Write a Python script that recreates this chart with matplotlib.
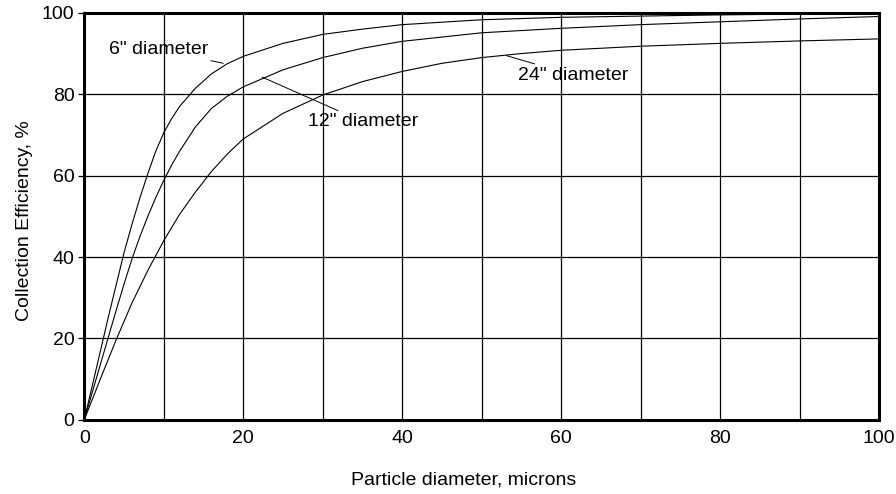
import numpy as np
import matplotlib.pyplot as plt
from matplotlib.ticker import MultipleLocator

plt.rcParams['font.family'] = ['Liberation Sans', 'DejaVu Sans']

# particle diameter, microns -> collection efficiency, %
x6 = [0, 1, 2, 3, 4, 5, 6, 7, 8, 9, 10, 11, 12, 14, 16, 18, 20, 25, 30, 35, 40, 50, 60, 70, 80, 90, 100]
eff6 = [0, 8.3, 16.6, 25, 33, 41, 48, 54.5, 60.5, 66, 70.5, 74, 77, 81.5, 85, 87.5, 89.3, 92.5, 94.7, 96, 97.1, 98.3, 98.9, 99.2, 99.5, 99.7, 99.8]

x12 = [0, 1, 2, 3, 4, 5, 6, 7, 8, 9, 10, 11, 12, 14, 16, 18, 20, 25, 30, 35, 40, 50, 60, 70, 80, 90, 100]
eff12 = [0, 6.7, 13.4, 20.1, 26.8, 33.3, 39.5, 45, 50, 54.6, 58.8, 62.6, 66, 72, 76.5, 79.5, 81.8, 86, 89, 91.3, 93, 95.1, 96.2, 97.1, 97.8, 98.5, 99.1]

x24 = [0, 2, 4, 6, 8, 10, 12, 14, 16, 18, 20, 25, 30, 35, 40, 45, 50, 55, 60, 70, 80, 90, 100]
eff24 = [0, 9.9, 19.6, 28.7, 36.7, 44, 50.5, 56, 61, 65.3, 69, 75.3, 79.8, 83.1, 85.6, 87.6, 89.0, 90.0, 90.8, 91.8, 92.5, 93.1, 93.6]

fig = plt.figure(figsize=(8.96, 4.94), dpi=100)
ax = fig.add_axes([0.094, 0.150, 0.887, 0.824])

for xs, ys in [(x6, eff6), (x12, eff12), (x24, eff24)]:
    ax.plot(xs, ys, color='black', lw=0.8)

ax.set_xlim(0, 100)
ax.set_ylim(0, 100)
ax.xaxis.set_major_locator(MultipleLocator(20))
ax.xaxis.set_minor_locator(MultipleLocator(10))
ax.yaxis.set_major_locator(MultipleLocator(20))
ax.grid(True, which='both', color='black', lw=0.9)
ax.set_axisbelow(True)
ax.tick_params(axis='x', which='both', length=0, pad=7, labelsize=14)
ax.tick_params(axis='y', length=4, width=0.9, pad=3, labelsize=14)
for s in ax.spines.values():
    s.set_linewidth(2.2)

ax.set_xlabel('Particle diameter, microns', fontsize=14)
ax.xaxis.set_label_coords(0.478, -0.126)
ax.set_ylabel('Collection Efficiency, %', fontsize=14)
ax.yaxis.set_label_coords(-0.064, 0.49)

lp = dict(arrowstyle='-', color='black', lw=0.7, shrinkA=0, shrinkB=0)
ax.annotate('6" diameter', xy=(17.5, 87.6), xytext=(15.6, 91),
            ha='right', va='center', fontsize=14, arrowprops=lp)
ax.annotate('12" diameter', xy=(22.4, 84.2), xytext=(28.2, 73.2),
            ha='left', va='center', fontsize=14, arrowprops=lp)
ax.annotate('24" diameter', xy=(53.1, 89.5), xytext=(54.6, 84.7),
            ha='left', va='center', fontsize=14, arrowprops=lp)

fig.savefig('out.png', dpi=100)
